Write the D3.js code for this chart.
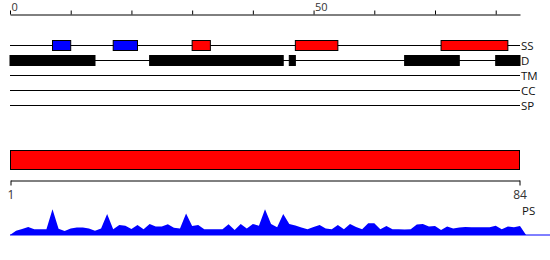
<!DOCTYPE html>
<html><head><meta charset="utf-8">
<script src="https://cdn.jsdelivr.net/npm/d3@7"></script>
<style>body{margin:0;background:#fff}svg{display:block}text{font-family:"Open Sans",sans-serif}</style>
</head><body><svg id="c" width="550" height="260"></svg>
<script>
const seqLength = 84;
const topTicks = [0,10,20,30,40,50,60,70,80];
const topTickLabels = [0,50];
const trackNames = ["SS","D","TM","CC","SP"];
const ssStart = [7,17,30,47,71];
const ssEnd = [10,21,33,54,82];
const ssType = ["strand","strand","helix","helix","helix"];
const disStart = [0,23,46,65,80];
const disEnd = [14,45,47,74,84];
const bottomTicks = [1,84];
const psValues = [0.14,0.2,0.27,0.19,0.19,0.19,0.86,0.21,0.13,0.22,0.25,0.25,0.22,0.14,0.22,0.7,0.19,0.33,0.31,0.2,
0.33,0.19,0.37,0.28,0.28,0.36,0.24,0.22,0.72,0.3,0.33,0.19,0.19,0.19,0.19,0.36,0.17,0.37,0.22,0.37,
0.31,0.86,0.37,0.26,0.7,0.37,0.32,0.25,0.19,0.27,0.33,0.22,0.19,0.33,0.19,0.37,0.27,0.19,0.39,0.39,
0.19,0.3,0.19,0.19,0.18,0.19,0.35,0.37,0.28,0.3,0.17,0.28,0.22,0.25,0.27,0.26,0.26,0.26,0.26,0.31,
0.19,0.28,0.26,0.3];

const svg = d3.select("#c");
const x = d3.scaleLinear().domain([0, seqLength]).range([10, 520]);

// top axis
const gTop = svg.append("g").attr("transform","translate(0,14.5)")
  .call(d3.axisTop(x).tickValues(topTicks).tickSize(4).tickSizeOuter(0)
    .tickFormat(d => topTickLabels.includes(d) ? d : ""));
gTop.select(".domain").attr("stroke","#000");
gTop.selectAll(".tick line").attr("stroke","#000");
gTop.selectAll(".tick text").attr("text-anchor","start").attr("dx","1").attr("y",-4)
  .attr("fill","#333").style("font-size","11px").style("font-family","'Open Sans',sans-serif");

// tracks
const trackY = d3.scalePoint().domain(trackNames).range([45.5,105.5]);
trackNames.forEach(n => {
  svg.append("line").attr("x1",x(0)).attr("x2",x(seqLength))
    .attr("y1",trackY(n)).attr("y2",trackY(n)).attr("stroke","#000").attr("stroke-width",1);
  svg.append("text").attr("x",x(seqLength)+1).attr("y",trackY(n)).attr("dy","0.35em")
    .style("font-size","11.5px").attr("fill","#111").text(n);
});

// secondary structure boxes
svg.selectAll("rect.ss").data(ssStart.map((s,i)=>({s, e:ssEnd[i], t:ssType[i]}))).enter()
  .append("rect").attr("class","ss")
  .attr("x",d=>x(d.s)).attr("width",d=>x(d.e)-x(d.s))
  .attr("y",trackY("SS")-5).attr("height",10)
  .attr("fill",d=>d.t==="helix"?"#ff0000":"#0000ff")
  .attr("stroke","#000").attr("stroke-width",1);

// disorder boxes
svg.selectAll("rect.dis").data(disStart.map((s,i)=>({s, e:disEnd[i]}))).enter()
  .append("rect").attr("class","dis")
  .attr("x",d=>x(d.s)).attr("width",d=>x(d.e)-x(d.s))
  .attr("y",trackY("D")-5).attr("height",10)
  .attr("fill","#000").attr("stroke","#000").attr("stroke-width",1);

// full length bar
svg.append("rect").attr("x",x(0)+0.5).attr("width",x(seqLength)-x(0)-1)
  .attr("y",150.5).attr("height",19).attr("fill","#ff0000").attr("stroke","#000").attr("stroke-width",1);

// bottom axis
const xb = d3.scaleLinear().domain([1, seqLength]).range([10.5, 519.5]);
const gBot = svg.append("g").attr("transform","translate(0,180.5)")
  .call(d3.axisBottom(xb).tickValues(bottomTicks).tickSize(5).tickSizeOuter(0));
gBot.select(".domain").attr("stroke","#000");
gBot.selectAll(".tick line").attr("stroke","#000");
gBot.selectAll(".tick text").attr("fill","#333").attr("y",10).style("font-size","12px")
  .style("font-family","'Open Sans',sans-serif");

// PS area
const psY = d3.scaleLinear().domain([0,1]).range([235,205]);
const pts = [[0,0]].concat(psValues.map((v,i)=>[i+1,v])).concat([[seqLength+1,0]]);
svg.append("line").attr("x1",x(0)).attr("x2",550).attr("y1",235).attr("y2",235)
  .attr("stroke","#0000ff").attr("stroke-width",1);
svg.append("path").datum(pts)
  .attr("d", d3.area().x(d=>x(d[0])).y0(psY(0)).y1(d=>psY(d[1])))
  .attr("fill","#0000ff");
svg.append("text").attr("x",522).attr("y",215).style("font-size","11.5px").attr("fill","#111").text("PS");
</script></body></html>
